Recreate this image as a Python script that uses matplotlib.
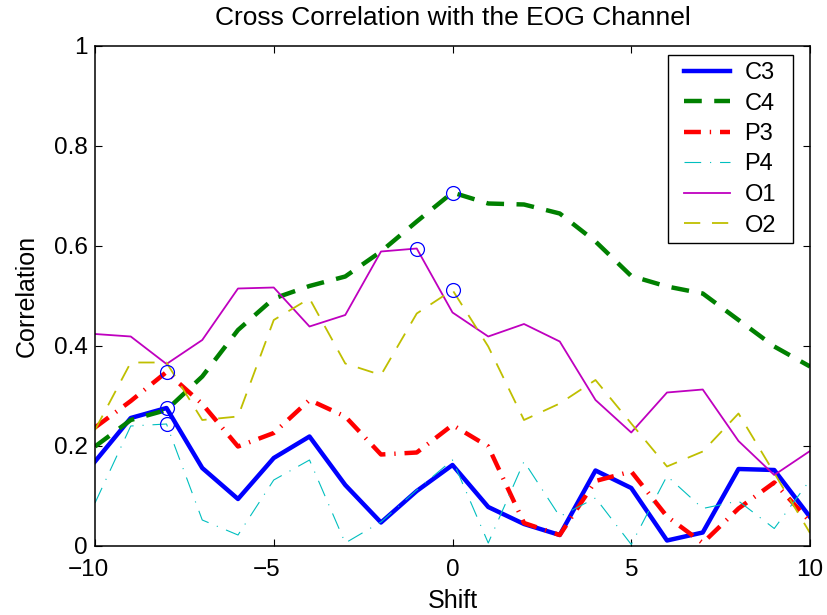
import numpy as np
import matplotlib
matplotlib.use("Agg")
import matplotlib.pyplot as plt
from matplotlib.patches import Rectangle
from matplotlib.transforms import ScaledTranslation

plt.rcParams['font.family'] = ['Liberation Sans', 'DejaVu Sans']

shift = list(range(-10, 11))

c3 = [0.169, 0.256, 0.276, 0.156, 0.094, 0.176, 0.219, 0.122, 0.047, 0.110, 0.162,
      0.078, 0.044, 0.022, 0.151, 0.116, 0.011, 0.027, 0.154, 0.152, 0.058]
c4 = [0.199, 0.252, 0.272, 0.339, 0.432, 0.495, 0.520, 0.539, 0.589, 0.649, 0.707,
      0.685, 0.683, 0.665, 0.609, 0.540, 0.519, 0.505, 0.452, 0.399, 0.359]
p3 = [0.237, 0.290, 0.348, 0.284, 0.199, 0.226, 0.292, 0.259, 0.183, 0.187, 0.242,
      0.199, 0.046, 0.022, 0.130, 0.149, 0.059, 0.006, 0.075, 0.127, 0.049]
p4 = [0.086, 0.240, 0.244, 0.052, 0.022, 0.132, 0.172, 0.006, 0.048, 0.112, 0.172,
      0.006, 0.169, 0.059, 0.096, 0.003, 0.140, 0.075, 0.090, 0.035, 0.132]
o1 = [0.424, 0.419, 0.364, 0.412, 0.515, 0.517, 0.439, 0.462, 0.589, 0.595, 0.467,
      0.419, 0.444, 0.409, 0.292, 0.227, 0.307, 0.313, 0.210, 0.142, 0.190]
o2 = [0.232, 0.367, 0.367, 0.252, 0.259, 0.452, 0.495, 0.365, 0.342, 0.465, 0.512,
      0.399, 0.252, 0.285, 0.332, 0.245, 0.159, 0.189, 0.265, 0.146, 0.026]

names = ['C3', 'C4', 'P3', 'P4', 'O1', 'O2']
series = [c3, c4, p3, p4, o1, o2]
styles = [
    dict(color='#0000ff', linestyle='-', linewidth=3.2),
    dict(color='#008000', linestyle=(0, (4.0, 2.8)), linewidth=3.2),
    dict(color='#ff0000', linestyle=(0, (3.8, 2.0, 0.3, 2.0)), linewidth=3.2),
    dict(color='#00bfbf', linestyle=(0, (15, 8, 1, 8)), linewidth=0.8),
    dict(color='#bf00bf', linestyle='-', linewidth=1.3),
    dict(color='#bfbf00', linestyle=(0, (9, 6.5)), linewidth=1.3),
]

fig = plt.figure(figsize=(8.27, 6.15), dpi=100)
ax = fig.add_axes([95 / 827, 1 - 546 / 615, 715 / 827, 500 / 615])

for name, vals, st in zip(names, series, styles):
    ax.plot(shift, vals, label=name, **st)

# mark the peak of each channel's correlation
for vals in series:
    i = int(np.argmax(vals))
    ax.plot(shift[i], vals[i], marker='o', markersize=10, markerfacecolor='none',
            markeredgecolor='#0000ff', markeredgewidth=0.9, linestyle='none')

xticks = [-10, -5, 0, 5, 10]
ax.set_xlim(-10, 10)
ax.set_ylim(0, 1)
ax.set_xticks(xticks)
ax.set_xticklabels(['\u221210', '\u22125', '0', '5', '10'])
ax.set_yticks([0, 0.2, 0.4, 0.6, 0.8, 1.0])
ax.set_yticklabels(['0', '0.2', '0.4', '0.6', '0.8', '1'])
ax.tick_params(direction='in', top=True, right=True, labelsize=17.5, length=5, width=0.8)
ax.tick_params(axis='x', pad=9)
ax.tick_params(axis='y', pad=5)
for sp in ax.spines.values():
    sp.set_linewidth(1.1)

# centre negative tick labels on their digits rather than on the minus sign
for val, lab in zip(xticks, ax.get_xticklabels()):
    if val < 0:
        lab.set_transform(lab.get_transform() + ScaledTranslation(-5 / 72, 0, fig.dpi_scale_trans))

ax.set_title('Cross Correlation with the EOG Channel', fontsize=19, pad=15)
ax.set_xlabel('Shift', fontsize=18, labelpad=6)
ax.set_ylabel('Correlation', fontsize=18, labelpad=11)

leg = ax.legend(loc='upper right', bbox_to_anchor=(776 / 827, 1 - 62 / 615),
                bbox_transform=fig.transFigure, borderaxespad=0,
                fontsize=17, frameon=False,
                handlelength=1.95, handletextpad=0.62,
                labelspacing=0.36, borderpad=0)

# boxed frame around the legend with wider side margins
fig.canvas.draw()
bb = leg.get_window_extent()
pad_l, pad_r, pad_t, pad_b = 16, 17, 7, 6
frame = Rectangle((bb.x0 - pad_l, bb.y0 - pad_b), bb.width + pad_l + pad_r,
                  bb.height + pad_t + pad_b, transform=None,
                  facecolor='white', edgecolor='black', linewidth=1.0, zorder=4.9)
ax.add_artist(frame)
leg.set_zorder(5)

fig.savefig('out.png', dpi=100)
